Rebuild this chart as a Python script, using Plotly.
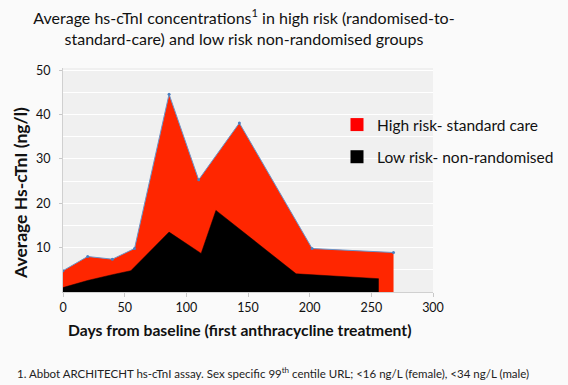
import plotly.graph_objects as go

# Data
high_days = [0, 20, 40, 58, 86, 110, 143, 202, 268]
high_vals = [4.8, 8.0, 7.4, 9.8, 44.6, 25.3, 38.1, 9.8, 8.9]
low_days = [0, 20, 40, 55, 86, 112, 124, 189, 256]
low_vals = [1.0, 2.6, 3.9, 4.8, 13.5, 8.7, 18.4, 4.1, 3.0]

x_ticks = [0, 50, 100, 150, 200, 250, 300]
y_ticks = [10, 20, 30, 40, 50]

series_names = ["High risk- standard care", "Low risk- non-randomised"]

FONT = "Lato"
RED = "#ff2600"

fig = go.Figure()

fig.add_trace(go.Scatter(
    x=high_days, y=high_vals, mode="lines+markers", fill="tozeroy",
    fillcolor=RED, line=dict(color="#6a93c8", width=1),
    marker=dict(color="#4a7fc0", size=3), showlegend=False,
))
fig.add_trace(go.Scatter(
    x=low_days, y=low_vals, mode="lines", fill="tozeroy",
    fillcolor="#000000", line=dict(color="#000000", width=0.5),
    showlegend=False,
))

# legend entries (square swatches)
for name, col, grp in [(series_names[0], "#ff0000", "a"), (series_names[1], "#000000", "b")]:
    fig.add_trace(go.Scatter(
        x=[None], y=[None], mode="markers", name=name, legendgroup=grp,
        marker=dict(symbol="square", size=13, color=col),
    ))

fig.update_layout(
    width=568, height=385,
    margin=dict(l=63, r=135, t=68, b=93, autoexpand=False),
    paper_bgcolor="#fafafa",
    plot_bgcolor="#f0f0f0",
    font=dict(family=FONT, color="#111111"),
    title=dict(
        text="Average hs-cTnI concentrations<sup>1</sup> in high risk (randomised-to-<br>standard-care) and low risk non-randomised groups",
        x=244 / 568, xanchor="center", y=1 - 24 / 385, yanchor="middle",
        font=dict(family=FONT, size=16, color="#111111"),
    ),
    xaxis=dict(
        range=[0, 300], tickvals=x_ticks, showgrid=False, zeroline=False,
        showline=True, linecolor="#d0d0d0", linewidth=1,
        ticks="outside", ticklen=4, tickcolor="#c8c8c8", automargin=False,
        tickfont=dict(family=FONT, size=12.5, color="#111111"),
    ),
    yaxis=dict(
        range=[0, 50.5], tickvals=y_ticks, showgrid=True, gridcolor="#ffffff",
        gridwidth=1, zeroline=False, showline=True, linecolor="#d0d0d0",
        ticks="outside", ticklen=3, tickcolor="#c8c8c8", automargin=False,
        minor=dict(dtick=5, showgrid=True, gridcolor="#ffffff", gridwidth=1),
        tickfont=dict(family=FONT, size=12.5, color="#111111"),
        ticklabelstandoff=6,
    ),
    legend=dict(
        xref="container", yref="container",
        x=337 / 568, y=1 - 108 / 385, xanchor="left", yanchor="top",
        bgcolor="rgba(0,0,0,0)", font=dict(family=FONT, size=15.5, color="#111111"),
        tracegroupgap=9, itemwidth=30,
    ),
    showlegend=True,
)

fig.add_annotation(
    text="<b>Average Hs-cTnI (ng/l)</b>", textangle=-90,
    xref="paper", yref="paper", x=(20 - 63) / 370, y=(292 - 193) / 224,
    xanchor="center", yanchor="middle", showarrow=False,
    font=dict(family=FONT, size=17.5, color="#111111"),
)
fig.add_annotation(
    text="<b>Days from baseline (first anthracycline treatment)</b>",
    xref="paper", yref="paper", x=(239 - 63) / 370, y=(292 - 330) / 224,
    xanchor="center", yanchor="middle", showarrow=False,
    font=dict(family=FONT, size=15.7, color="#111111"),
)
fig.add_annotation(
    text="1. Abbot ARCHITECHT hs-cTnI assay. Sex specific 99<sup>th</sup> centile URL; <16 ng/L (female), <34 ng/L (male)",
    xref="paper", yref="paper", x=(15 - 63) / 370, y=(292 - 372) / 224,
    xanchor="left", yanchor="middle", showarrow=False,
    font=dict(family=FONT, size=11.5, color="#222222"),
)

fig.write_html(
    "out.html",
    config={"displayModeBar": False},
    post_script="document.body.style.margin='0';document.body.style.overflow='hidden';",
)
